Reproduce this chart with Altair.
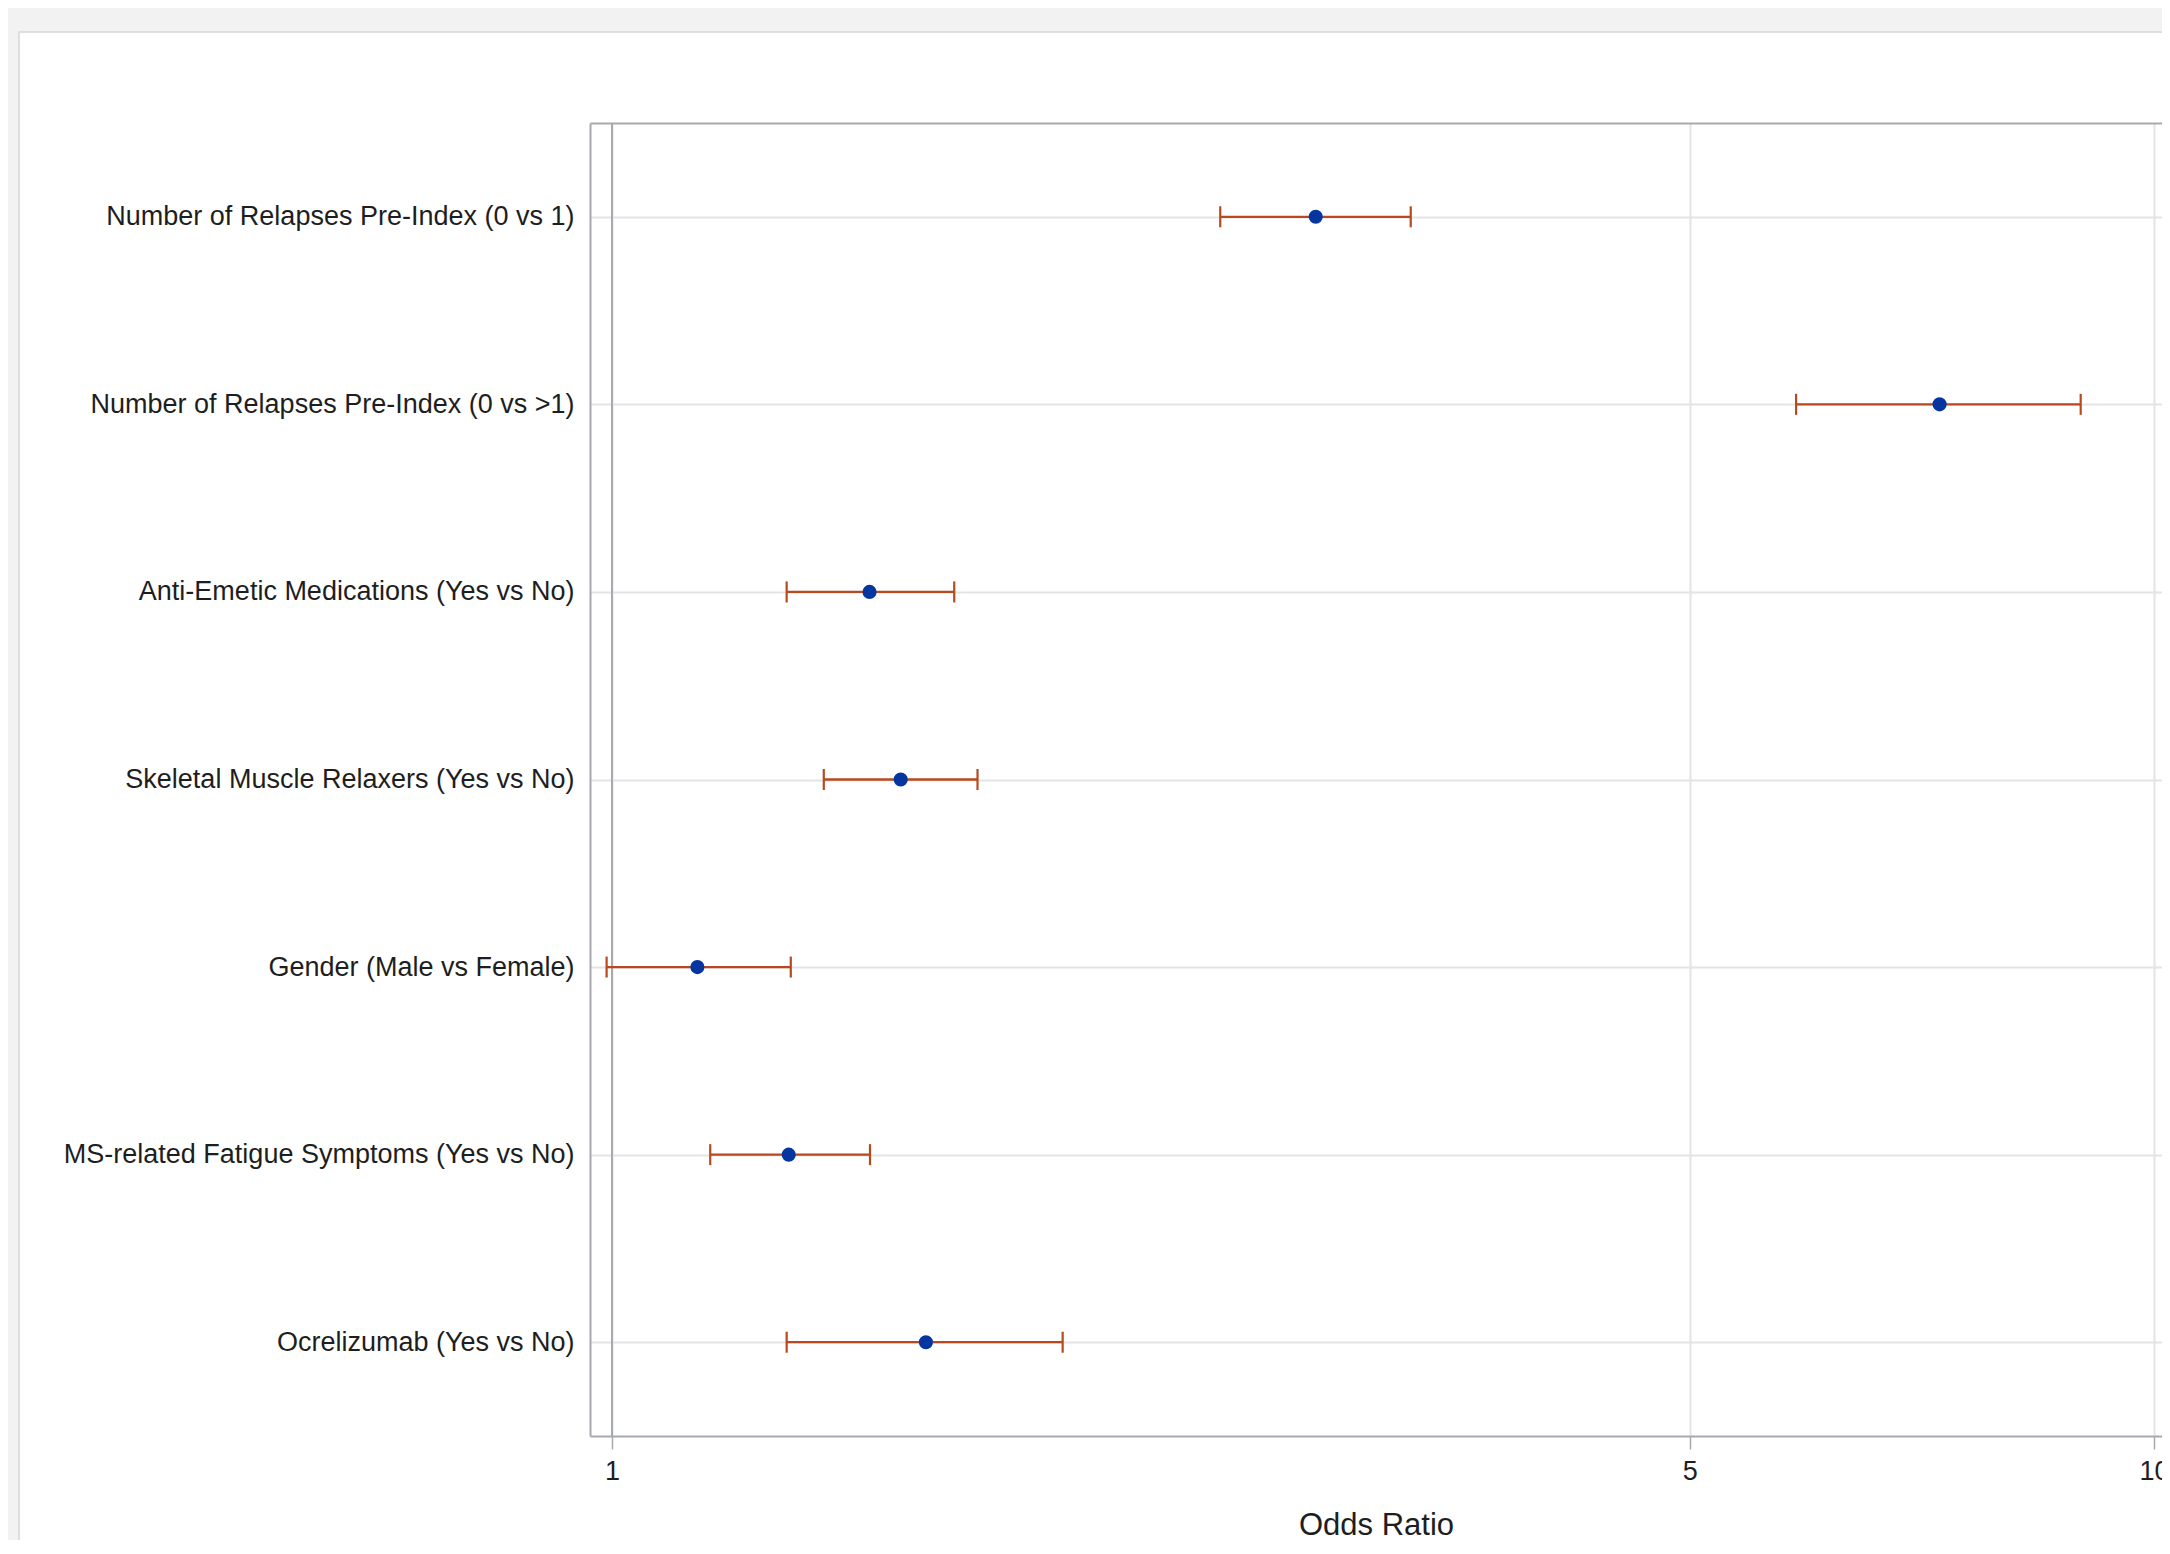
import altair as alt
import pandas as pd

# ---- data ----
labels = [
    "Number of Relapses Pre-Index (0 vs 1)",
    "Number of Relapses Pre-Index (0 vs >1)",
    "Anti-Emetic Medications (Yes vs No)",
    "Skeletal Muscle Relaxers (Yes vs No)",
    "Gender (Male vs Female)",
    "MS-related Fatigue Symptoms (Yes vs No)",
    "Ocrelizumab (Yes vs No)",
]
odds_ratio = [2.86, 7.26, 1.469, 1.539, 1.136, 1.302, 1.598]
lower_ci = [2.48, 5.86, 1.298, 1.372, 0.992, 1.158, 1.298]
upper_ci = [3.296, 8.963, 1.667, 1.726, 1.306, 1.470, 1.960]
tick_values = [1, 5, 10]
x_domain = [0.9677, 10.12]
ref_value = [1]

df = pd.DataFrame({"label": labels, "or": odds_ratio, "lo": lower_ci, "hi": upper_ci})
ref_df = pd.DataFrame({"ref": ref_value})
deco_df = pd.DataFrame({"p": [0]})

W, H = 1572, 1313
FRAME = "#a6aaae"
GRID = "#e4e4e4"
ERR = "#b8491f"
BLUE = "#0536a0"
TXT = "#1e1e1e"
FONT = "Liberation Sans"

xscale = alt.Scale(type="log", domain=x_domain, nice=False)
yscale = alt.Scale(type="point", padding=0.5, domain=labels)

yaxis = alt.Axis(
    title=None, ticks=False, labelFontSize=27, labelFont=FONT, labelColor=TXT,
    labelPadding=16, labelLimit=1000, domainColor=FRAME, domainWidth=2,
    grid=True, gridColor=GRID, gridWidth=2,
)
xaxis = alt.Axis(
    values=tick_values, format="~g", labelFontSize=27, labelFont=FONT, labelColor=TXT,
    labelPadding=9, labelFlush=False, labelOverlap=False,
    tickSize=13, tickColor=FRAME, tickWidth=1.5,
    domainColor=FRAME, domainWidth=2,
    grid=True, gridColor=GRID, gridWidth=2,
    title="Odds Ratio", titleFont=FONT, titleFontSize=31, titleFontWeight="normal",
    titleColor=TXT, titlePadding=26,
)
top_axis = alt.Axis(
    orient="top", labels=False, ticks=False, grid=False, title=None,
    domainColor=FRAME, domainWidth=2,
)

base = alt.Chart(df).encode(y=alt.Y("label:N", scale=yscale, sort=labels, axis=yaxis))

bars = base.mark_rule(color=ERR, strokeWidth=2.3).encode(
    x=alt.X("lo:Q", scale=xscale, axis=xaxis), x2="hi:Q"
)
cap_lo = base.mark_tick(color=ERR, thickness=2.2, size=21, opacity=1).encode(
    x=alt.X("lo:Q", scale=xscale, axis=None)
)
cap_hi = base.mark_tick(color=ERR, thickness=2.2, size=21, opacity=1).encode(
    x=alt.X("hi:Q", scale=xscale, axis=None)
)
points = base.mark_point(filled=True, shape="circle", size=200, color=BLUE, opacity=1).encode(
    x=alt.X("or:Q", scale=xscale, axis=None)
)
ref = alt.Chart(ref_df).mark_rule(color=FRAME, strokeWidth=2).encode(
    x=alt.X("ref:Q", scale=xscale, axis=top_axis)
)

# decorative page panel (grey strips + light border like the SAS output frame)
top_strip = alt.Chart(deco_df).mark_rect(color="#f2f2f2").encode(
    x=alt.value(-582), x2=alt.value(W + 10), y=alt.value(-115), y2=alt.value(-91)
)
left_strip = alt.Chart(deco_df).mark_rect(color="#f2f2f2").encode(
    x=alt.value(-582), x2=alt.value(-571), y=alt.value(-115), y2=alt.value(H + 300)
)
outline = alt.Chart(deco_df).mark_rect(fillOpacity=0, stroke="#d6d6d6", strokeWidth=1.5).encode(
    x=alt.value(-571), x2=alt.value(W + 60), y=alt.value(-91), y2=alt.value(H + 300)
)

chart = (
    alt.layer(top_strip, left_strip, outline, ref, bars, cap_lo, cap_hi, points)
    .resolve_axis(x="independent")
    .properties(
        width=W, height=H,
        autosize=alt.AutoSizeParams(type="none"),
        padding={"left": 582, "top": 115, "right": 0, "bottom": 104},
        background="white",
    )
    .configure_view(strokeWidth=0)
)

chart.save("out.html", embed_options={"renderer": "svg", "actions": False})
